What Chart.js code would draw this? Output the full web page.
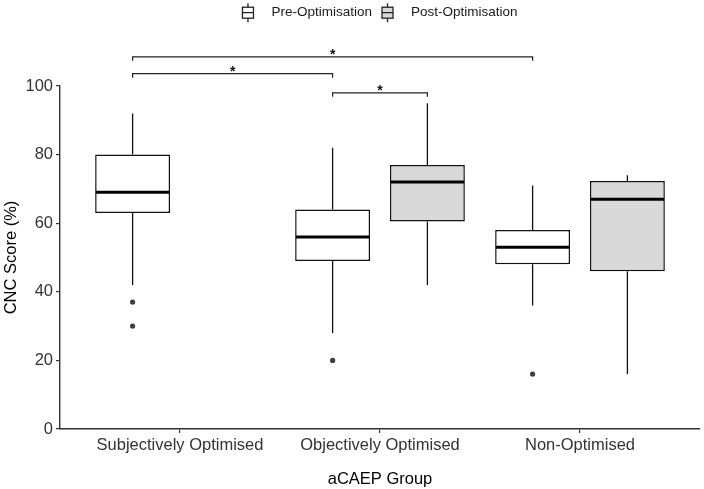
<!DOCTYPE html>
<html>
<head>
<meta charset="utf-8">
<script src="https://cdn.jsdelivr.net/npm/chart.js@4.4.1/dist/chart.umd.min.js"></script>
<style>
    html, body { margin: 0; padding: 0; background: #fff; }
    canvas { display: block; }
</style>
</head>
<body>
<canvas id="myChart" width="704" height="489"></canvas>
<script>
// Grupos del eje X y nombres de las series
const groups = ['Subjectively Optimised', 'Objectively Optimised', 'Non-Optimised'];
const seriesNames = ['Pre-Optimisation', 'Post-Optimisation'];

// Pre-Optimisation (mínimo, Q1, mediana, Q3, máximo de los bigotes)
const preMin = [42, 28, 36];
const preQ1 = [63, 49, 48];
const preMedian = [69, 56, 53];
const preQ3 = [80, 64, 58];
const preMax = [92, 82, 71];
const preOutliers = [[37, 30], [20], [16]];

// Post-Optimisation (no hay datos para el primer grupo)
const postMin = [null, 42, 16];
const postQ1 = [null, 60.5, 46];
const postMedian = [null, 72, 67];
const postQ3 = [null, 77, 72.3];
const postMax = [null, 95, 74];
const postOutliers = [[], [], []];

const yTicks = [0, 20, 40, 60, 80, 100];

// Comparaciones significativas: [grupo, serie] -> [grupo, serie], altura y etiqueta
const sigFrom = [[0, 0], [0, 0], [1, 0]];
const sigTo = [[2, 0], [1, 0], [1, 1]];
const sigHeight = [108.5, 103.6, 98];
const sigLabel = ['*', '*', '*'];

// Estilo
const FONT = "'Liberation Sans', Arial, sans-serif";
const DODGE = 0.237;           // desplazamiento de cada serie dentro del grupo
const fills = ['#ffffff', '#d9d9d9'];
const lineColor = '#111';

// Posición en el eje X (grupo + desplazamiento de la serie)
function pos(g, s) {
    return g + 1 + (s === 0 ? -DODGE : DODGE);
}

// Construye el dataset de cajas para una serie
function boxDataset(s, mins, q1s, meds, q3s, maxs) {
    const data = [];
    const stats = [];
    groups.forEach((g, i) => {
        if (q1s[i] == null) return;
        data.push({x: pos(i, s), y: [q1s[i], q3s[i]]});
        stats.push({min: mins[i], q1: q1s[i], median: meds[i], q3: q3s[i], max: maxs[i]});
    });
    return {
        type: 'bar',
        label: seriesNames[s],
        data,
        stats,
        grouped: false,
        backgroundColor: fills[s],
        borderColor: lineColor,
        borderWidth: 1.5,
        borderSkipped: false,
        barPercentage: 0.79,
        categoryPercentage: 1,
        order: 2
    };
}

// Puntos atípicos
const outlierPoints = [];
[preOutliers, postOutliers].forEach((series, s) => {
    series.forEach((vals, i) => {
        vals.forEach(v => outlierPoints.push({x: pos(i, s), y: v}));
    });
});

// Bigotes y medianas sobre las cajas
const whiskerPlugin = {
    id: 'whiskers',
    afterDatasetsDraw(chart) {
        const ctx = chart.ctx;
        const y = chart.scales.y;
        chart.data.datasets.forEach((ds, di) => {
            if (!ds.stats) return;
            const meta = chart.getDatasetMeta(di);
            meta.data.forEach((bar, i) => {
                const st = ds.stats[i];
                const half = bar.width / 2;
                ctx.save();
                ctx.strokeStyle = lineColor;
                ctx.lineWidth = 1.3;
                ctx.beginPath();
                ctx.moveTo(bar.x, y.getPixelForValue(st.q3));
                ctx.lineTo(bar.x, y.getPixelForValue(st.max));
                ctx.moveTo(bar.x, y.getPixelForValue(st.q1));
                ctx.lineTo(bar.x, y.getPixelForValue(st.min));
                ctx.stroke();
                ctx.lineWidth = 3;
                ctx.strokeStyle = '#000';
                ctx.beginPath();
                ctx.moveTo(bar.x - half + 0.7, y.getPixelForValue(st.median));
                ctx.lineTo(bar.x + half - 0.7, y.getPixelForValue(st.median));
                ctx.stroke();
                ctx.restore();
            });
        });
    }
};

// Corchetes de significancia y leyenda
const annotationPlugin = {
    id: 'annotations',
    afterDraw(chart) {
        const ctx = chart.ctx;
        const x = chart.scales.x;
        const y = chart.scales.y;
        ctx.save();
        ctx.strokeStyle = '#222';
        ctx.lineWidth = 1.2;
        sigHeight.forEach((h, k) => {
            const x1 = x.getPixelForValue(pos(sigFrom[k][0], sigFrom[k][1]));
            const x2 = x.getPixelForValue(pos(sigTo[k][0], sigTo[k][1]));
            const yy = y.getPixelForValue(h);
            ctx.beginPath();
            ctx.moveTo(x1, yy + 4);
            ctx.lineTo(x1, yy);
            ctx.lineTo(x2, yy);
            ctx.lineTo(x2, yy + 4);
            ctx.stroke();
            ctx.fillStyle = '#111';
            ctx.font = 'bold 14px ' + FONT;
            ctx.textAlign = 'center';
            ctx.textBaseline = 'alphabetic';
            ctx.fillText(sigLabel[k], (x1 + x2) / 2, yy + 2);
        });

        // Leyenda con iconos de diagrama de caja
        ctx.font = '13.5px ' + FONT;
        const iconW = 11, gapText = 18, gapItem = 10;
        const widths = seriesNames.map(n => ctx.measureText(n).width);
        const total = widths.reduce((a, w) => a + iconW + gapText + w, 0) + gapItem;
        let cx = (chart.chartArea.left + chart.chartArea.right) / 2 - total / 2;
        const cy = 12.7;
        seriesNames.forEach((name, s) => {
            ctx.strokeStyle = '#222';
            ctx.lineWidth = 1.3;
            ctx.fillStyle = fills[s];
            ctx.fillRect(cx, cy - 5.5, iconW, 11);
            ctx.strokeRect(cx, cy - 5.5, iconW, 11);
            ctx.beginPath();
            ctx.moveTo(cx, cy);
            ctx.lineTo(cx + iconW, cy);
            ctx.moveTo(cx + iconW / 2, cy - 5.5);
            ctx.lineTo(cx + iconW / 2, cy - 9.5);
            ctx.moveTo(cx + iconW / 2, cy + 5.5);
            ctx.lineTo(cx + iconW / 2, cy + 9.5);
            ctx.stroke();
            ctx.fillStyle = '#1a1a1a';
            ctx.textAlign = 'left';
            ctx.textBaseline = 'middle';
            ctx.fillText(name, cx + iconW + gapText, cy);
            cx += iconW + gapText + widths[s] + gapItem;
        });
        ctx.restore();
    }
};

const ctx = document.getElementById('myChart').getContext('2d');
const myChart = new Chart(ctx, {
    type: 'bar',
    data: {
        datasets: [
            boxDataset(0, preMin, preQ1, preMedian, preQ3, preMax),
            boxDataset(1, postMin, postQ1, postMedian, postQ3, postMax),
            {
                type: 'scatter',
                label: 'outliers',
                data: outlierPoints,
                pointRadius: 2.6,
                pointBackgroundColor: '#3d3d3d',
                pointBorderWidth: 0,
                order: 1
            }
        ]
    },
    options: {
        responsive: false,
        animation: false,
        layout: {padding: {top: 86, right: 0, left: 0, bottom: 0}},
        plugins: {
            legend: {display: false},
            tooltip: {enabled: false}
        },
        scales: {
            x: {
                type: 'linear',
                min: 0.4,
                max: 3.6,
                offset: false,
                afterBuildTicks: scale => { scale.ticks = groups.map((g, i) => ({value: i + 1})); },
                afterFit: scale => { scale.height = 60; },
                ticks: {
                    autoSkip: false,
                    maxRotation: 0,
                    padding: 3,
                    color: '#333',
                    font: {family: FONT, size: 16.5},
                    callback: v => groups[Math.round(v) - 1]
                },
                grid: {offset: false, drawOnChartArea: false, drawTicks: true, tickLength: 4, color: '#333', lineWidth: 1.2},
                border: {display: true, color: '#333', width: 1.4},
                title: {
                    display: true,
                    text: 'aCAEP Group',
                    color: '#000',
                    font: {family: FONT, size: 16.5},
                    padding: {top: 0, bottom: 0}
                }
            },
            y: {
                type: 'linear',
                min: 0,
                max: 100,
                afterBuildTicks: scale => { scale.ticks = yTicks.map(v => ({value: v})); },
                afterFit: scale => { scale.width = 60; },
                ticks: {
                    padding: 3,
                    color: '#333',
                    font: {family: FONT, size: 16.5}
                },
                grid: {drawOnChartArea: false, drawTicks: true, tickLength: 4, color: '#333', lineWidth: 1.2},
                border: {display: true, color: '#333', width: 1.4},
                title: {
                    display: true,
                    text: 'CNC Score (%)',
                    color: '#000',
                    font: {family: FONT, size: 16.5},
                    padding: {top: 2, bottom: 0}
                }
            }
        }
    },
    plugins: [whiskerPlugin, annotationPlugin]
});
</script>
</body>
</html>
